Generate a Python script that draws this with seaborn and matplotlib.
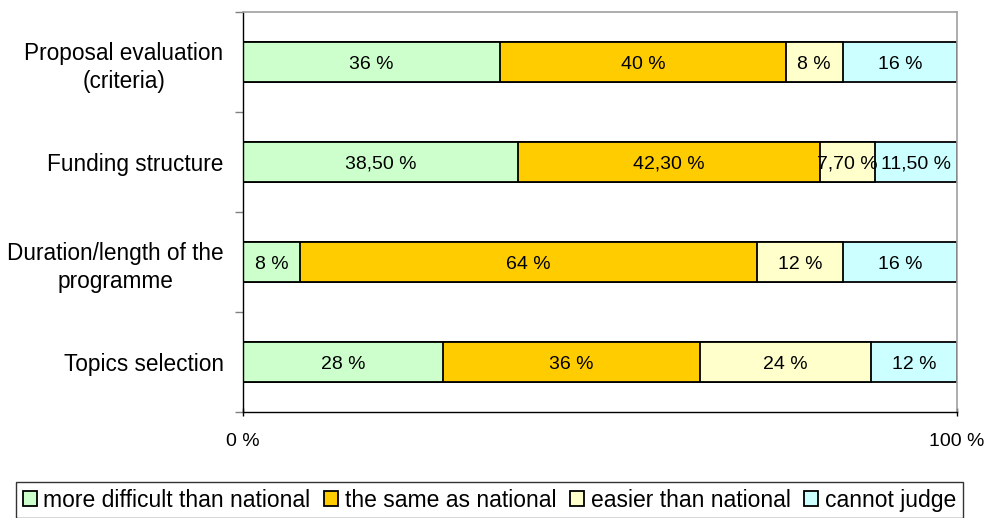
import pandas as pd
import matplotlib
matplotlib.use("Agg")
from matplotlib import pyplot as plt
from matplotlib.patches import Patch
import seaborn as sns

CATEGORIES = ["Proposal evaluation\n(criteria)", "Funding structure",
              "Duration/length of the\nprogramme", "Topics selection"]
SERIES = ["more difficult than national", "the same as national",
          "easier than national", "cannot judge"]
MORE_DIFFICULT = [36, 38.5, 8, 28]
SAME = [40, 42.3, 64, 36]
EASIER = [8, 7.7, 12, 24]
CANNOT_JUDGE = [16, 11.5, 16, 12]
COLORS = ["#CCFFCC", "#FFCC00", "#FFFFCC", "#CCFFFF"]


def fmt(v):
    # integers shown plain, fractions with comma decimals like the source
    if float(v).is_integer():
        return f"{int(v)} %"
    return f"{v:.2f}".replace(".", ",") + " %"


def main():
    sns.set_style("white")
    plt.rcParams["font.family"] = ["Liberation Sans", "DejaVu Sans"]
    plt.rcParams["text.color"] = "black"
    plt.rcParams["xtick.labelcolor"] = "black"
    plt.rcParams["ytick.labelcolor"] = "black"

    values = [MORE_DIFFICULT, SAME, EASIER, CANNOT_JUDGE]
    df = pd.DataFrame({"category": CATEGORIES})
    cum = [0] * len(CATEGORIES)
    cum_cols = []
    for name, vals in zip(SERIES, values):
        cum = [c + v for c, v in zip(cum, vals)]
        df[name] = cum
        cum_cols.append(name)

    fig = plt.figure(figsize=(9.86, 5.18), dpi=100)
    ax = fig.add_axes([0.2465, 0.2046, 0.7241, 0.7722])

    # draw cumulative totals back to front so each segment shows
    for name, color in reversed(list(zip(cum_cols, COLORS))):
        sns.barplot(data=df, x=name, y="category", order=CATEGORIES,
                    color=color, orient="y", width=0.4, ax=ax,
                    edgecolor="black", linewidth=1.3, saturation=1)

    # segment labels
    for i, cat in enumerate(CATEGORIES):
        left = 0
        for vals in values:
            v = vals[i]
            ax.text(left + v / 2, i, fmt(v), ha="center",
                    va="center_baseline", fontsize=14, color="black")
            left += v

    ax.set_xlim(0, 100)
    ax.set_ylim(3.5, -0.5)
    ax.set_xlabel("")
    ax.set_ylabel("")
    ax.set_xticks([0, 100])
    ax.set_xticklabels(["0 %", "100 %"], fontsize=14)
    ax.set_yticks([0, 1, 2, 3])
    ax.set_yticklabels(CATEGORIES, fontsize=16.3, multialignment="center",
                       linespacing=1.3)
    ax.set_yticks([-0.5, 0.5, 1.5, 2.5, 3.5], minor=True)
    ax.tick_params(axis="y", which="major", length=0, pad=14)
    ax.tick_params(axis="y", which="minor", length=6, width=1,
                   color="#808080", direction="out", left=True)
    ax.tick_params(axis="x", which="major", length=6, width=1,
                   color="black", direction="inout", bottom=True, pad=12)

    for side in ["left", "bottom"]:
        ax.spines[side].set_color("black")
        ax.spines[side].set_linewidth(1)
    for side in ["top", "right"]:
        ax.spines[side].set_color("#A0A0A0")
        ax.spines[side].set_linewidth(1.2)

    handles = [Patch(facecolor=c, edgecolor="black", linewidth=1.3, label=s)
               for s, c in zip(SERIES, COLORS)]
    leg = fig.legend(handles=handles, loc="center",
                     bbox_to_anchor=(0.4965, 0.0347), ncol=4, fontsize=16.5,
                     frameon=True, fancybox=False, handlelength=0.6,
                     handleheight=0.6, handletextpad=0.3, columnspacing=0.6,
                     borderpad=0.3, borderaxespad=0)
    leg.get_frame().set_edgecolor("black")
    leg.get_frame().set_linewidth(1)

    fig.savefig("out.png", dpi=100)


if __name__ == "__main__":
    main()
